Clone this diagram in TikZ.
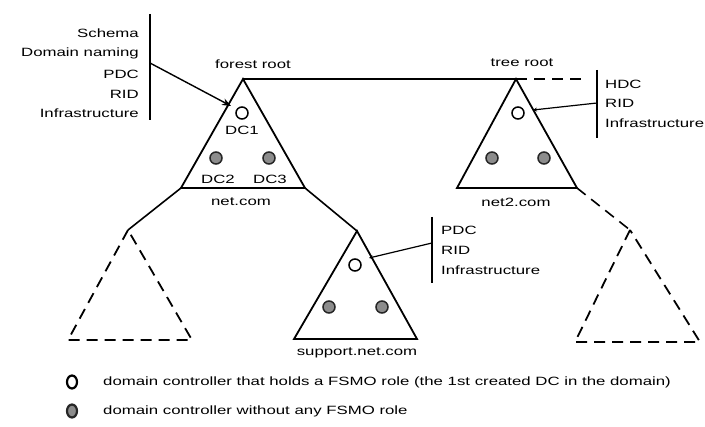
\documentclass[tikz,border=0pt]{standalone}
\usepackage{fontspec}
\setmainfont{Liberation Sans}[FakeStretch=1.4]
\usetikzlibrary{arrows.meta,shapes.geometric}
\begin{document}
\begin{tikzpicture}[x=1pt,y=-1pt,
  font=\fontsize{12}{14}\selectfont,
  tri/.style={line width=1.8pt,line join=miter},
  dtri/.style={line width=1.8pt,dash pattern=on 11pt off 7pt},
  link/.style={line width=1.6pt},
  dlink/.style={line width=1.6pt,dash pattern=on 11pt off 7pt},
  rolebar/.style={line width=1.8pt},
  pointer/.style={line width=1.4pt},
  fsmo/.style={circle,draw=black,line width=1.5pt,fill=white,minimum size=12pt,inner sep=0pt},
  plaindc/.style={circle,draw=black!85,line width=1.5pt,fill=black!45,minimum size=12pt,inner sep=0pt},
  keymark/.style={ellipse,line width=2.2pt,minimum width=10pt,minimum height=13pt},
  lbl/.style={inner sep=1pt},
  rolel/.style={anchor=east,inner sep=0pt},
  roler/.style={anchor=west,inner sep=0pt}]
\useasboundingbox[fill=white] (0,0) rectangle (705,427);

% corner points of the domain triangles
\coordinate (na) at (243,79);  \coordinate (nl) at (181,188); \coordinate (nr) at (305,188);
\coordinate (ta) at (516,79);  \coordinate (tl) at (457,188); \coordinate (tr) at (577,188);
\coordinate (sa) at (357,231); \coordinate (sl) at (294,339); \coordinate (sr) at (417,339);
\coordinate (la) at (128,230); \coordinate (ll) at (68,340);  \coordinate (lr) at (192,340);
\coordinate (ra) at (630,230); \coordinate (rl) at (575,342); \coordinate (rr) at (700,342);
\coordinate (tstub) at (588,79);

% domains
\draw[tri] (na) -- (nl) -- (nr) -- cycle;
\draw[tri] (ta) -- (tl) -- (tr) -- cycle;
\draw[tri] (sa) -- (sl) -- (sr) -- cycle;
\draw[dtri] (la) -- (ll) -- (lr) -- cycle;
\draw[dtri] (ra) -- (rl) -- (rr) -- cycle;

% links between domains
\draw[link] (na) -- (ta);
\draw[dlink] (ta) -- (tstub);
\draw[link] (nl) -- (la);
\draw[link] (nr) -- (sa);
\draw[dlink] (tr) -- (ra);

% domain labels
\node[lbl] (lforest) at (253,64) {forest root};
\node[lbl] (ltree) at (522,63) {tree root};
\node[lbl] (lnet) at (241,202) {net.com};
\node[lbl] (lnet2) at (516,202) {net2.com};
\node[lbl] (lsupport) at (357,353) {support.net.com};

% domain controllers of net.com
\node[fsmo] (dc1) at (242,113) {};
\node[plaindc] (dc2) at (216,158) {};
\node[plaindc] (dc3) at (269,158) {};
\node[lbl] (ldc1) at (242,130) {DC1};
\node[lbl] (ldc2) at (218,179) {DC2};
\node[lbl] (ldc3) at (270,179) {DC3};

% domain controllers of net2.com
\node[fsmo] (tdc1) at (518,113) {};
\node[plaindc] (tdc2) at (492,158) {};
\node[plaindc] (tdc3) at (544,158) {};

% domain controllers of support.net.com
\node[fsmo] (sdc1) at (355,265) {};
\node[plaindc] (sdc2) at (329,307) {};
\node[plaindc] (sdc3) at (382,307) {};

% FSMO roles of the forest root
\coordinate (b1t) at (150,14); \coordinate (b1b) at (150,120); \coordinate (b1m) at (150,63);
\coordinate (b1p) at (231,106);
\draw[rolebar] (b1t) -- (b1b);
\draw[pointer,-{Stealth[length=9pt,width=7pt]}] (b1m) -- (b1p);
\node[rolel] (r1a) at (139,33) {Schema};
\node[rolel] (r1b) at (139,53) {Domain naming};
\node[rolel] (r1c) at (139,74) {PDC};
\node[rolel] (r1d) at (139,94) {RID};
\node[rolel] (r1e) at (139,113) {Infrastructure};

% FSMO roles of the tree root
\coordinate (b2t) at (597,70); \coordinate (b2b) at (597,138); \coordinate (b2m) at (597,103);
\coordinate (b2p) at (533,110);
\draw[rolebar] (b2t) -- (b2b);
\draw[line width=1.2pt,-{Stealth[length=4pt,width=4pt]}] (b2m) -- (b2p);
\node[roler] (r2a) at (605,84) {HDC};
\node[roler] (r2b) at (605,103) {RID};
\node[roler] (r2c) at (605,123) {Infrastructure};

% FSMO roles of support.net.com
\coordinate (b3t) at (432,217); \coordinate (b3b) at (432,283); \coordinate (b3m) at (432,243);
\coordinate (b3p) at (369,258);
\draw[rolebar] (b3t) -- (b3b);
\draw[line width=1.2pt,-{Stealth[length=4pt,width=4pt]}] (b3m) -- (b3p);
\node[roler] (r3a) at (441,230) {PDC};
\node[roler] (r3b) at (441,250) {RID};
\node[roler] (r3c) at (441,270) {Infrastructure};

% legend
\node[keymark,draw=black,fill=white] (key1) at (72,382) {};
\node[keymark,draw=black!85,fill=black!45] (key2) at (72,411) {};
\node[roler] (key1t) at (103,382) {domain controller that holds a FSMO role (the 1st created DC in the domain)};
\node[roler] (key2t) at (103,411) {domain controller without any FSMO role};
\end{tikzpicture}
\end{document}
